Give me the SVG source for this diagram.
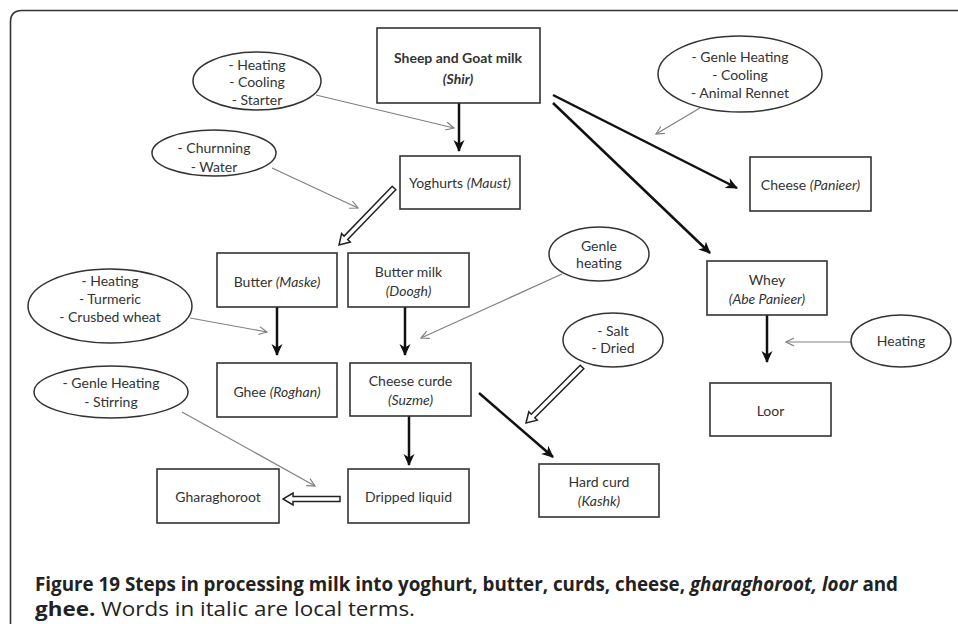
<svg xmlns="http://www.w3.org/2000/svg" width="958" height="624" viewBox="0 0 958 624">
<style>
.box{fill:#fff;stroke:#333;stroke-width:1.6}
.ell{fill:#fff;stroke:#333;stroke-width:1.5}
.t{font-family:Lato,"Open Sans","Liberation Sans",sans-serif;font-size:14px;fill:#333;text-anchor:middle}
.b{font-weight:bold}
.i{font-style:italic}
.thick{fill:none;stroke:#111;stroke-width:2.5;marker-end:url(#ah)}
.thin{fill:none;stroke:#808080;stroke-width:1.2;marker-end:url(#av)}
.hollow{fill:#fff;stroke:#222;stroke-width:1.5;stroke-linejoin:miter}
.cap{font-family:"Open Sans","Liberation Sans",sans-serif;font-size:19px;fill:#222}
</style>
<defs>
<marker id="ah" markerUnits="userSpaceOnUse" markerWidth="12" markerHeight="12" viewBox="0 0 12 12" refX="11" refY="6" orient="auto">
<path d="M0,0.5 L12,6 L0,11.5 L3.5,6 Z" fill="#111"/>
</marker>
<marker id="av" markerUnits="userSpaceOnUse" markerWidth="10" markerHeight="10" viewBox="0 0 10 10" refX="9" refY="5" orient="auto">
<path d="M1,1 L9,5 L1,9" fill="none" stroke="#808080" stroke-width="1.2"/>
</marker>
</defs>
<rect width="958" height="624" fill="#fff"/>
<path d="M958,10.5 H22 Q10.5,10.5 10.5,22 V624" fill="none" stroke="#333" stroke-width="1.6"/>

<g id="connectors">
<path class="thick" d="M459,103 V151"/>
<path class="thick" d="M553,95 L737,188"/>
<path class="thick" d="M553,103 L710,253"/>
<path class="thick" d="M277,307 V355"/>
<path class="thick" d="M405,307 V355"/>
<path class="thick" d="M767,315 V362"/>
<path class="thick" d="M409,416 V465"/>
<path class="thick" d="M479,393 L553,457"/>
<path class="thin" d="M316,95 L454,128"/>
<path class="thin" d="M272,168 L358,208"/>
<path class="thin" d="M700,108 L656,134"/>
<path class="thin" d="M190,318 L267,332"/>
<path class="thin" d="M562,274 L421,338"/>
<path class="thin" d="M851,342 L786,342"/>
<path class="thin" d="M182,412 L315,486"/>
<path class="hollow" d="M395.8,189.7 L347.7,239.5 L350.3,242 L339,245 L341.6,233.6 L344.1,236.1 L392.2,186.3 Z"/>
<path class="hollow" d="M583.8,368.8 L534.8,417.7 L537.3,420.2 L526,423 L528.8,411.7 L531.3,414.2 L580.2,365.2 Z"/>
<path class="hollow" d="M340,501.5 L293,501.5 L293,505 L283,499 L293,493 L293,496.5 L340,496.5 Z"/>
</g>

<g id="n-milk"><rect class="box" x="377" y="28" width="163" height="75"/>
<text class="t b" x="458" y="63">Sheep and Goat milk</text>
<text class="t b i" x="458" y="84">(Shir)</text></g>
<g id="n-yoghurt"><rect class="box" x="400" y="156" width="120" height="53"/>
<text class="t" x="460" y="188">Yoghurts <tspan class="i">(Maust)</tspan></text></g>
<g id="n-cheese"><rect class="box" x="750" y="157" width="121" height="54"/>
<text class="t" x="810.5" y="190">Cheese <tspan class="i">(Panieer)</tspan></text></g>
<g id="n-butter"><rect class="box" x="217" y="253" width="120" height="54"/>
<text class="t" x="277" y="287">Butter <tspan class="i">(Maske)</tspan></text></g>
<g id="n-buttermilk"><rect class="box" x="348" y="253" width="121" height="54"/>
<text class="t" x="408.5" y="277">Butter milk</text>
<text class="t i" x="408.5" y="296">(Doogh)</text></g>
<g id="n-ghee"><rect class="box" x="217" y="363" width="120" height="54"/>
<text class="t" x="277" y="397">Ghee <tspan class="i">(Roghan)</tspan></text></g>
<g id="n-curde"><rect class="box" x="350" y="363" width="121" height="53"/>
<text class="t" x="410.5" y="386">Cheese curde</text>
<text class="t i" x="410.5" y="405">(Suzme)</text></g>
<g id="n-whey"><rect class="box" x="707" y="261" width="120" height="54"/>
<text class="t" x="767" y="285">Whey</text>
<text class="t i" x="767" y="304">(Abe Panieer)</text></g>
<g id="n-loor"><rect class="box" x="710" y="383" width="121" height="53"/>
<text class="t" x="770.5" y="416">Loor</text></g>
<g id="n-hardcurd"><rect class="box" x="539" y="464" width="120" height="53"/>
<text class="t" x="599" y="487">Hard curd</text>
<text class="t i" x="599" y="506">(Kashk)</text></g>
<g id="n-dripped"><rect class="box" x="348" y="469" width="121" height="54"/>
<text class="t" x="408.5" y="502">Dripped liquid</text></g>
<g id="n-gharaghoroot"><rect class="box" x="157" y="469" width="122" height="54"/>
<text class="t" x="218" y="502">Gharaghoroot</text></g>

<g id="e-heating1"><ellipse class="ell" cx="257" cy="81" rx="64" ry="29"/>
<text class="t" x="257" y="70">- Heating</text><text class="t" x="257" y="87">- Cooling</text><text class="t" x="257" y="105">- Starter</text></g>
<g id="e-churn"><ellipse class="ell" cx="214" cy="153" rx="62" ry="23"/>
<text class="t" x="214" y="153">- Churnning</text><text class="t" x="214" y="172">- Water</text></g>
<g id="e-rennet"><ellipse class="ell" cx="740" cy="74" rx="82" ry="38"/>
<text class="t" x="740" y="62">- Genle Heating</text><text class="t" x="740" y="80">- Cooling</text><text class="t" x="740" y="98">- Animal Rennet</text></g>
<g id="e-turmeric"><ellipse class="ell" cx="110" cy="306" rx="82" ry="37"/>
<text class="t" x="110" y="286">- Heating</text><text class="t" x="110" y="304">- Turmeric</text><text class="t" x="110" y="322">- Crusbed wheat</text></g>
<g id="e-stirring"><ellipse class="ell" cx="111" cy="392" rx="77" ry="26"/>
<text class="t" x="111" y="388">- Genle Heating</text><text class="t" x="111" y="407">- Stirring</text></g>
<g id="e-genle"><ellipse class="ell" cx="599" cy="254" rx="50" ry="27"/>
<text class="t" x="599" y="251">Genle</text><text class="t" x="599" y="268">heating</text></g>
<g id="e-salt"><ellipse class="ell" cx="613" cy="340" rx="50" ry="27"/>
<text class="t" x="613" y="336">- Salt</text><text class="t" x="613" y="353">- Dried</text></g>
<g id="e-heating2"><ellipse class="ell" cx="901" cy="341" rx="50" ry="26"/>
<text class="t" x="901" y="346">Heating</text></g>

<text class="cap b" x="35" y="591" textLength="863" lengthAdjust="spacingAndGlyphs">Figure 19 Steps in processing milk into yoghurt, butter, curds, cheese, <tspan class="i">gharaghoroot, loor</tspan> and</text>
<text class="cap" x="35" y="616" textLength="380" lengthAdjust="spacingAndGlyphs" style="font-size:20px"><tspan class="b">ghee.</tspan> Words in italic are local terms.</text>
</svg>
